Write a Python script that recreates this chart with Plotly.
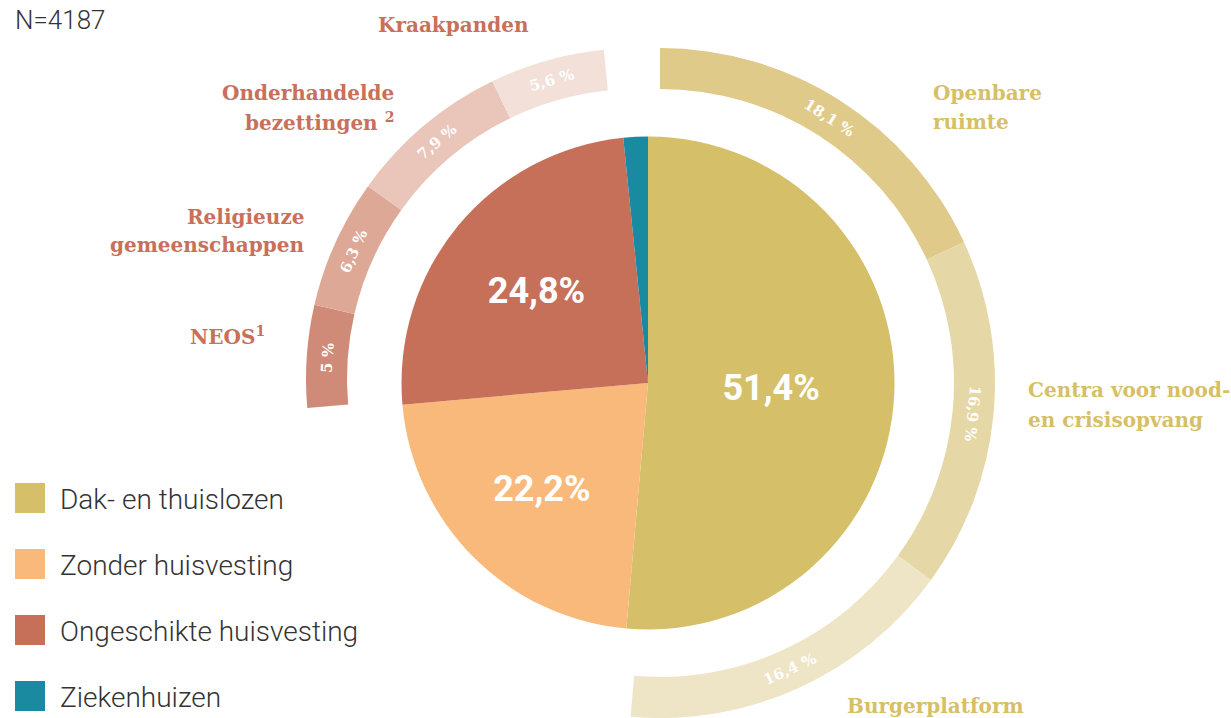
import math
import plotly.graph_objects as go

W, H = 1231, 718

# ---------------- data ----------------
main_labels = ["Dak- en thuislozen", "Zonder huisvesting", "Ongeschikte huisvesting", "Ziekenhuizen"]
main_values = [51.4, 22.2, 24.8, 1.6]
main_colors = ["#d5bf69", "#f8b97b", "#c6705a", "#1a8aa0"]

dak_labels = ["Openbare ruimte", "Centra voor nood- en crisisopvang", "Burgerplatform"]
dak_values = [18.1, 16.9, 16.4]
dak_colors = ["#dfca89", "#e6d7a7", "#eee4c6"]

ong_labels = ["NEOS", "Religieuze gemeenschappen", "Onderhandelde bezettingen", "Kraakpanden"]
ong_values = [5.0, 6.3, 7.9, 5.6]
ong_colors = ["#d08b78", "#dea897", "#e9c6b9", "#f2e0d9"]

sample_size = 4187

RED_TXT = "#c8705a"
YEL_TXT = "#d6bf66"
CLEAR = "rgba(0,0,0,0)"

# ring geometry (pixels): centre x, centre y, inner radius, outer radius
DAK_RING = (660, 383, 294, 335)
ONG_RING = (637, 379, 290, 331)
INNER = (648, 383, 246.5)


def pct(v, space=True):
    s = f"{v:g}".replace(".", ",")
    return s + (" %" if space else "%")


def dom(cx, cy, r):
    x0, x1 = (cx - r) / W, (cx + r) / W
    y0, y1 = (H - cy - r) / H, (H - cy + r) / H
    return dict(x=[max(0, x0), min(1, x1)], y=[max(0, y0), min(1, y1)])


def px(x):
    return x / W


def py(y):
    return 1 - y / H


fig = go.Figure()

# inner pie
fig.add_trace(go.Pie(
    labels=main_labels, values=main_values, sort=False, direction="clockwise", rotation=0,
    marker=dict(colors=main_colors, line=dict(width=0)),
    text=[pct(v, False) for v in main_values[:3]] + [""],
    textinfo="text", textposition="inside", insidetextorientation="horizontal",
    textfont=dict(family="Roboto", size=36, color="white", weight="bold"),
    domain=dom(*INNER), showlegend=False, hoverinfo="label+percent",
))

# outer ring: Dak- en thuislozen breakdown
rest_dak = sum(main_values) - sum(dak_values)
cx, cy, ri, ro = DAK_RING
fig.add_trace(go.Pie(
    labels=dak_labels + ["_rest_dak"], values=dak_values + [rest_dak],
    sort=False, direction="clockwise", rotation=0, hole=ri / ro,
    marker=dict(colors=dak_colors + [CLEAR], line=dict(width=0)),
    textinfo="none", domain=dom(cx, cy, ro), showlegend=False, hoverinfo="skip",
))

# outer ring: Ongeschikte huisvesting breakdown
lead = main_values[0] + main_values[1]
tail = main_values[3]
cx, cy, ri, ro = ONG_RING
fig.add_trace(go.Pie(
    labels=["_lead"] + ong_labels + ["_tail"], values=[lead] + ong_values + [tail],
    sort=False, direction="clockwise", rotation=0, hole=ri / ro,
    marker=dict(colors=[CLEAR] + ong_colors + [CLEAR], line=dict(width=0)),
    textinfo="none", domain=dom(cx, cy, ro), showlegend=False, hoverinfo="skip",
))

annotations = []


def ring_texts(values, start, ring):
    cx, cy, ri, ro = ring
    rm = (ri + ro) / 2
    cum = start
    for v in values:
        theta = (cum + v / 2) / sum(main_values) * 360.0
        a = math.radians(theta)
        x = cx + rm * math.sin(a)
        y = cy - rm * math.cos(a)
        if theta < 100:
            ang = theta
        elif theta < 260:
            ang = theta - 180
        else:
            ang = theta - 360
        annotations.append(dict(
            text=pct(v), x=px(x), y=py(y), xref="paper", yref="paper",
            xanchor="center", yanchor="middle", textangle=ang, showarrow=False,
            font=dict(family="DejaVu Serif", size=15, color="white", weight="bold"),
        ))
        cum += v


ring_texts(dak_values, 0.0, DAK_RING)
ring_texts(ong_values, lead, ONG_RING)

label_font = dict(family="DejaVu Serif", size=20, weight="bold")

# (line text, x, y, anchor, colour)
cat_labels = [
    ("Kraakpanden", 453, 25, "center", RED_TXT),
    ("Onderhandelde", 396, 93, "right", RED_TXT),
    ("bezettingen <sup>2</sup>", 396, 122, "right", RED_TXT),
    ("Religieuze", 306, 217, "right", RED_TXT),
    ("gemeenschappen", 306, 245, "right", RED_TXT),
    ("NEOS<sup>1</sup>", 267, 336, "right", RED_TXT),
    ("Openbare", 931, 93, "left", YEL_TXT),
    ("ruimte", 931, 122, "left", YEL_TXT),
    ("Centra voor nood-", 1026, 390, "left", YEL_TXT),
    ("en crisisopvang", 1026, 420, "left", YEL_TXT),
    ("Burgerplatform", 845, 706, "left", YEL_TXT),
]
for t, x, y, anc, c in cat_labels:
    annotations.append(dict(
        text=t, x=px(x), y=py(y), xref="paper", yref="paper", xanchor=anc, yanchor="middle",
        align=anc, showarrow=False, font=dict(color=c, **label_font),
    ))

annotations.append(dict(
    text=f"N={sample_size}", x=px(13), y=py(20), xref="paper", yref="paper",
    xanchor="left", yanchor="middle", showarrow=False,
    font=dict(family="Roboto", size=26, color="#333333", weight=300),
))

# legend (drawn manually)
shapes = []
for i, (lab, col) in enumerate(zip(main_labels, main_colors)):
    top = 483 + 66 * i
    shapes.append(dict(type="rect", xref="paper", yref="paper",
                       x0=px(15), x1=px(45), y0=py(top + 30), y1=py(top),
                       fillcolor=col, line=dict(width=0)))
    annotations.append(dict(
        text=lab, x=px(58), y=py(top + 16), xref="paper", yref="paper",
        xanchor="left", yanchor="middle", showarrow=False,
        font=dict(family="Roboto", size=28, color="#333333", weight=300),
    ))

fig.update_layout(
    width=W, height=H, margin=dict(l=0, r=0, t=0, b=0),
    paper_bgcolor="white", plot_bgcolor="white",
    annotations=annotations, shapes=shapes,
)

fig.write_html(
    "out.html",
    config={"displayModeBar": False},
    post_script="document.body.style.margin='0';document.body.style.overflow='hidden';",
)
